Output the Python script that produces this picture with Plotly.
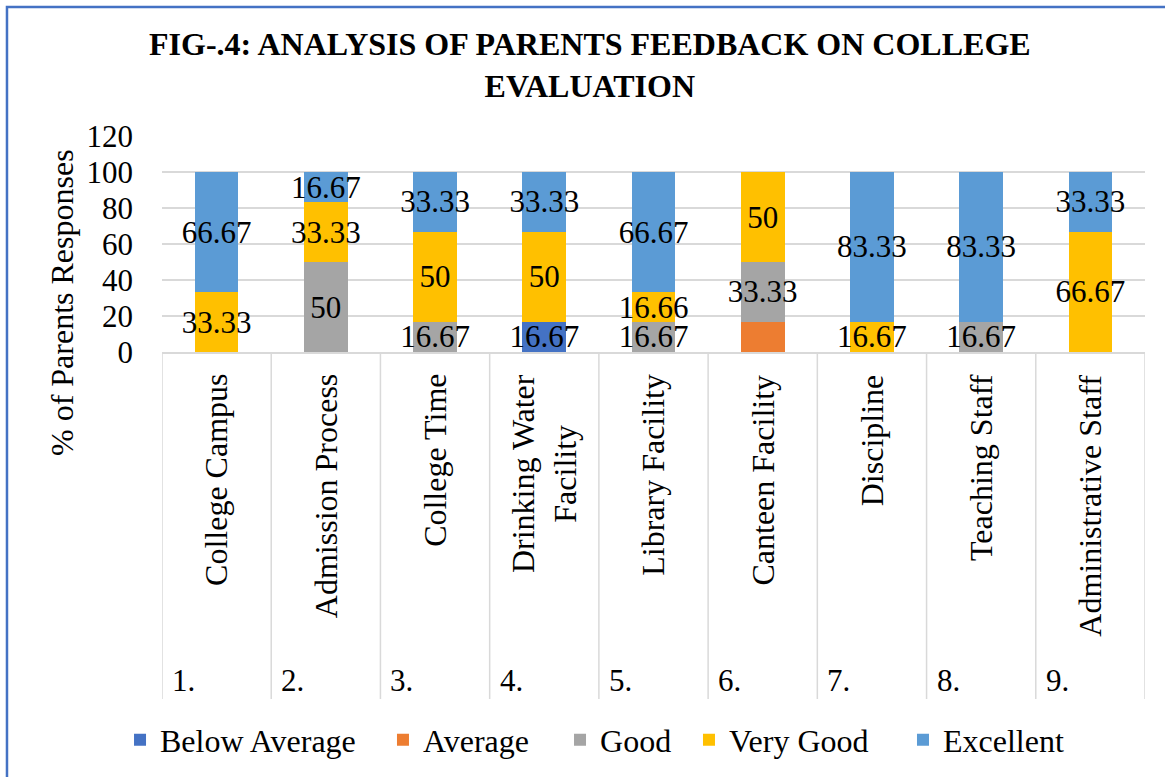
import plotly.graph_objects as go

# categories on the x axis
items = ["College Campus", "Admission Process", "College Time",
         "Drinking Water<br>Facility", "Library Facility", "Canteen Facility",
         "Discipline", "Teaching Staff", "Administrative Staff"]
item_no = ["1.", "2.", "3.", "4.", "5.", "6.", "7.", "8.", "9."]

# % of parents responses per rating
below_average = [None, None, None, 16.67, None, None, None, None, None]
average = [None, None, None, None, None, 16.67, None, None, None]
good = [None, 50, 16.67, None, 16.67, 33.33, None, 16.67, None]
very_good = [33.33, 33.33, 50, 50, 16.66, 50, 16.67, None, 66.67]
excellent = [66.67, 16.67, 33.33, 33.33, 66.67, None, 83.33, 83.33, 33.33]

FONT = "Liberation Serif"
FS = 31


def labels(vals, show=True):
    return ["" if (v is None or not show) else f"{v:g}" for v in vals]


series = [
    ("Below Average", below_average, "#4472C4", True),
    ("Average", average, "#ED7D31", False),
    ("Good", good, "#A5A5A5", True),
    ("Very Good", very_good, "#FFC000", True),
    ("Excellent", excellent, "#5B9BD5", True),
]
# legend entry left edges (paper x), one legend box per series like Excel's spacing
legend_x = [-0.0427, 0.2248, 0.4049, 0.5361, 0.7538]

fig = go.Figure()
for k, (name, vals, col, show) in enumerate(series):
    fig.add_trace(go.Bar(
        name=name, x=items, y=vals,
        marker=dict(color=col, line=dict(width=0)),
        text=labels(vals, show),
        textposition="inside", insidetextanchor="middle",
        textangle=0, constraintext="none", cliponaxis=False,
        textfont=dict(family=FONT, size=FS, color="black"),
        legend="legend" if k == 0 else f"legend{k + 1}",
    ))

# dividers of the category axis box
shapes = []
for i in range(len(items) + 1):
    shapes.append(dict(type="line", xref="x", yref="paper",
                       x0=i - 0.5, x1=i - 0.5, y0=0, y1=-1.606,
                       line=dict(color="#D9D9D9", width=1.5)))
# outer border
shapes.append(dict(type="rect", xref="paper", yref="paper",
                   x0=-0.1577, x1=1.03, y0=-2.1, y1=1.597,
                   line=dict(color="#4472C4", width=2.5)))

annotations = []
for i, (lab, num) in enumerate(zip(items, item_no)):
    annotations.append(dict(x=i, y=-0.094, xref="x", yref="paper",
                            text=lab, textangle=-90, showarrow=False,
                            xanchor="center", yanchor="top", align="center",
                            font=dict(family=FONT, size=32, color="black")))
    annotations.append(dict(x=i - 0.5, y=-1.523, xref="x", yref="paper",
                            text=num, showarrow=False, xshift=8,
                            xanchor="left", yanchor="middle",
                            font=dict(family=FONT, size=FS, color="black")))

annotations.append(dict(x=-0.1017, y=0.227, xref="paper", yref="paper",
                        text="% of Parents Responses", textangle=-90,
                        showarrow=False, xanchor="center", yanchor="middle",
                        font=dict(family=FONT, size=32, color="black")))
annotations.append(dict(x=0.435, y=1.329, xref="paper", yref="paper",
                        text="<b>FIG-.4: ANALYSIS OF PARENTS FEEDBACK ON COLLEGE<br>EVALUATION</b>",
                        showarrow=False, xanchor="center", yanchor="middle",
                        align="center",
                        font=dict(family=FONT, size=32, color="black")))

legends = {}
for k, lx in enumerate(legend_x):
    key = "legend" if k == 0 else f"legend{k + 1}"
    legends[key] = dict(orientation="h", x=lx, y=-1.796, xanchor="left",
                        yanchor="middle", bgcolor="rgba(0,0,0,0)",
                        font=dict(family=FONT, size=32, color="black"),
                        itemwidth=30)

fig.update_layout(
    width=1165, height=777,
    barmode="stack", bargap=0.6,
    paper_bgcolor="white", plot_bgcolor="white",
    margin=dict(l=162, r=20, t=136, b=425, autoexpand=False),
    font=dict(family=FONT, size=FS, color="black"),
    showlegend=True,
    shapes=shapes,
    annotations=annotations,
    **legends,
)
fig.update_xaxes(type="category", range=[-0.5, 8.5], showticklabels=False,
                 showline=True, linecolor="#D9D9D9", linewidth=1.5,
                 showgrid=False, ticks="")
fig.update_yaxes(range=[0, 120], dtick=20, showgrid=True,
                 gridcolor="#D9D9D9", gridwidth=1.5, zeroline=False,
                 showline=False, ticks="", ticklabelstandoff=28,
                 tickfont=dict(family=FONT, size=FS, color="black"))

fig.write_html("out.html", config={"displayModeBar": False},
               post_script="document.body.style.margin='0px';")
